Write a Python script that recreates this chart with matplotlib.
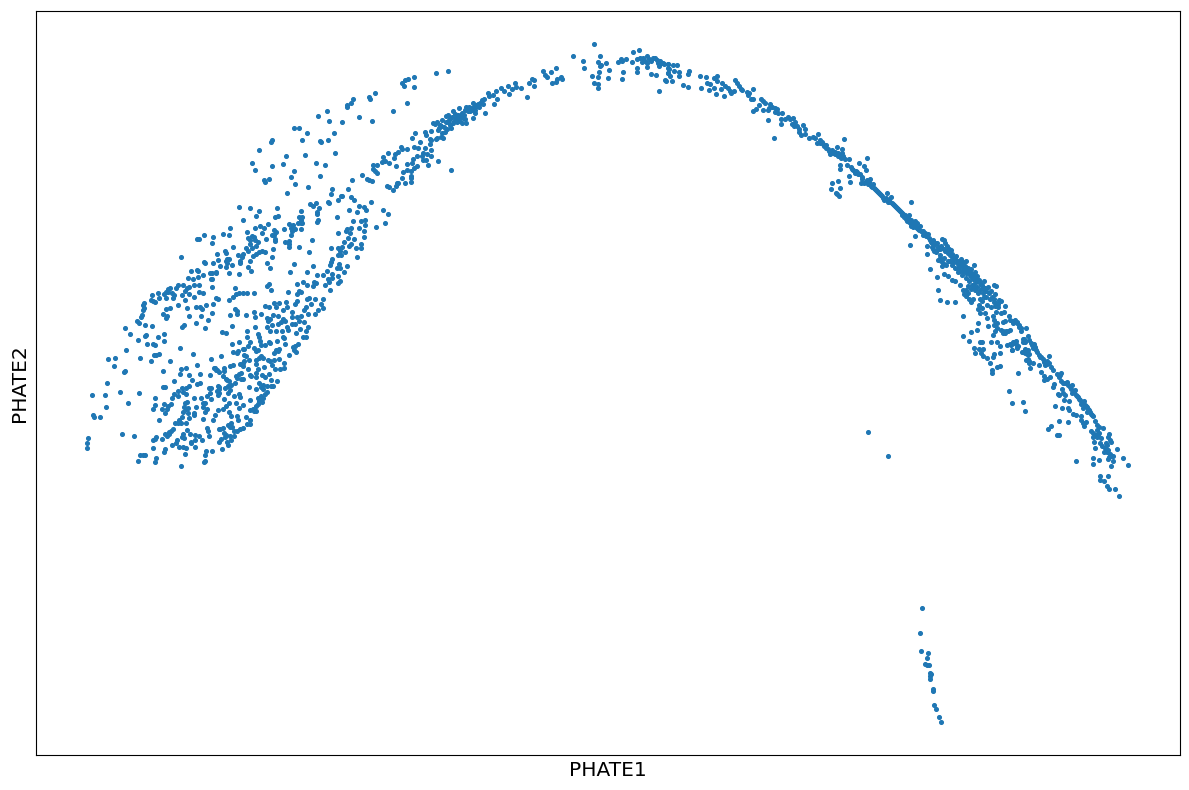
import numpy as np
from matplotlib import pyplot as plt

# values, arbitrary PHATE units
lobe_left = [(88,317),(87,312),(87,307),(92,360),(105,360),(120,363),(139,362),(107,372),(106,348),(128,352),(93,340),(94,338),(100,338),(122,321),(134,319),
    (108,396),(115,397),(114,389),(124,383),(125,384),(126,405),(140,397),(151,394),(154,400),(156,400),(159,401),(170,394),(163,384),(180,407),(193,401),(147,411),(153,411),(155,410),(138,415),(145,419),(146,420),(158,418),(164,421),(164,414),(130,421),(125,427),(137,434),(139,432),(145,430),(152,429),
    (141,438),(142,440),(143,445),(144,447),(143,450),(144,452),(152,460),(151,455),(153,454),(158,462),(159,457),(155,453),
    (164,461),(166,463),(168,466),(170,467),(168,463),(172,462),(174,460),(176,467),(178,470),(173,457),(166,457),(163,441),(166,446),(170,447),(167,439),(166,437),(178,450),
    (182,460),(185,455),(183,470),(187,467),(189,461),(185,464),(189,468),(194,458),(199,463),(203,462),(194,470),(199,470),(212,468),(188,477),(193,476),(198,478),(203,480),(210,482),(216,482),(191,484),(198,484),(211,476),
    (187,447),(196,448),(200,448),(202,446),(206,450),(213,451),(216,457),(189,439),(201,439),(212,442),(208,435),(196,432),(184,430),(182,428),(205,427),
    (211,396),(197,390),(181,386),(186,387),(180,381),(189,380),(192,375),(200,381),(210,380),(214,387),(216,385),(174,374),(197,371),(200,372),
    (163,368),(165,368),(178,364),(182,367),(186,367),(189,369),(183,363),(186,361),(174,361),(172,357),(178,359),(155,357),(155,350),(153,346),(162,346),(164,351),(168,349),(171,351),(167,346),(165,342),(159,335),
    (185,352),(187,353),(184,348),(186,346),(188,347),(183,343),(188,342),(182,338),(189,337),(179,335),(181,332),(175,332),(178,332),(186,332),(194,357),(194,342),(194,340),(196,348),(203,348),(207,346),(203,352),(205,352),(201,357),(207,359),(209,367),(210,362),(211,356),(219,368),(219,362),(205,343),(203,336),(213,335),(215,340),(218,345),
    (165,321),(169,323),(171,324),(173,326),(169,321),(167,319),(162,316),(156,318),(155,316),(153,315),(153,307),(165,306),(164,303),(177,315),(176,312),(172,310),(179,308),(183,308),(186,307),(185,301),(183,321),(184,317),(182,318),(187,325),(190,321),(195,320),(195,315),(191,313),(195,308),(191,312),(199,319),(202,315),(209,319),(207,327),(208,324),(205,300),(206,304),(212,304),(205,294),(204,293),(181,289),(155,293),(156,297),(138,294),(140,300),(143,300),(145,300),(219,326),(219,313)]

lobe_right = [(212,482),(216,483),(229,482),(239,481),(251,484),(212,476),(235,467),(233,458),(236,461),(239,462),(243,462),(247,462),(254,462),(229,455),(218,456),(235,446),(237,444),(237,441),(230,440),(246,440),(254,443),(255,438),(261,441),(265,449),(269,448),(274,452),(279,452),(276,448),(286,453),(287,448),(283,445),(278,439),(273,440),(270,436),(267,437),(268,434),(283,436),(285,434),(281,433),(278,431),(292,443),(292,438),(292,431),(295,451),(297,454),(288,463),(297,461),(299,464),(301,463),(297,471),(303,473),(307,470),(307,483),(290,483),(267,469),(269,471),(271,465),(317,480),(323,480),(327,484),(332,481),(344,483),(314,473),(316,472),(325,470),(329,473),(328,476),(332,477),(338,479),(340,474),(338,472),(330,465),(313,469),(309,457),(307,456),(311,451),(315,456),(323,456),(321,451),(323,447),(318,445),(315,441),(308,441),(306,448),(304,445),(297,438),(299,434),(301,439),(304,433),(308,428),(306,424),(303,418),(306,418),(296,422),(300,426),(295,431),(287,428),(288,425),(282,424),(276,424),(272,430),(267,428),(270,424),(255,428),(247,424),(247,418),(232,429),(222,423),(226,422),(258,421),(259,418),(260,414),(261,410),(265,410),(269,413),(270,412),(277,414),(285,411),(283,418),(284,417),(239,413),(232,411),(250,413),(248,409),(244,406),(243,406),(233,403),(237,402),(238,404),(254,407),(258,405),(256,404),(261,399),(263,397),(259,397),(256,395),(256,391),(244,400),(246,399),(249,395),(244,394),(243,392),(240,391),(243,389),(248,386),(221,399),(268,395),(270,394),(274,395),(279,396),(272,390),(275,386),(280,386),(284,392),(284,387),(278,404),(279,406),(276,405),(274,402),(289,400),(293,408),(295,409),(298,411),(294,405),(296,403),(264,388),(258,386),(256,382),(256,378),(250,380),(251,379),(262,380),(265,378),(269,381),(271,375),(277,374),(259,372),(263,370),(261,368),(267,369),(271,369),(273,369),(249,368),(256,366),(263,366),(267,363),(265,361),(263,357),(261,359),(258,357),(259,354),(250,355),(261,355),(262,353),(258,351),(256,349),(253,346),(250,345),(254,344),(256,344),(243,350),(239,347),(236,352),(239,361),(240,358),(234,359),(229,352),(224,356),(226,349),(223,346),(229,343),(231,339),(237,339),(238,335),(246,338),(250,335),(250,331),(247,331),(243,327),(240,326),(237,324),(234,324),(228,330),(231,332),(232,328),(230,328),(223,327),(220,326),(224,322),(226,320),(225,318),(230,319),(231,315),(234,319),(227,313),(228,310),(222,306),(221,316),
    (215,387),(217,385),(219,383),(224,387),(224,384),(230,389),(233,390),(241,382),(239,381),(236,379),(223,379),(226,376),(227,375),(229,374),(237,377),(241,376),(243,376),(235,372),(231,370),(228,369),(225,367),(218,369),(219,366),(217,364),(230,365),(228,362),(218,360),(211,367)]

lobe_upper = [(375,662),(369,658),(370,656),(353,656),(351,652),(347,650),(347,648),(327,644),(318,639),(329,634),(342,633),(359,638),(372,634),(393,644),(294,627),(299,627),(307,622),(334,622),(302,615),(320,614),(321,613),(328,615),(272,615),(271,613),(259,605),(335,602),(286,599),(305,600),(252,592),(283,591),(272,589),(316,592),(325,590),(255,585),(294,584),(291,578),(320,579),(269,576),(264,575),(265,573),(295,571),(308,568),(287,562),(352,575),(362,580),(332,566),(331,561),(348,566),(367,576),(369,575),(372,574),(373,590),(377,590),(373,586),(375,584),(377,582),(382,593),(385,594),(383,598),(389,592),(388,602),(394,597),(395,601),(398,603),(396,589),(387,569),(389,568),(393,565),(396,569),(398,572),
    (341,559),(342,559),(338,555),(351,558),(354,555),(371,553),(328,553),(329,552),(310,551),(313,549),(316,552),(319,547),(317,543),(317,541),(318,535),(317,533),(301,544),(349,545),(359,549),(364,548),(366,545),(357,543),(383,545),(388,541),(385,532),(376,528),(337,538),(353,534),(361,534),(365,535),(365,530),(359,527),(364,524),(364,518),(351,527),(347,526),(346,524),(338,522),(350,522),(348,517),(354,516),(344,513),(351,511),(349,509),(361,511),(361,507),(356,507),(357,498),(342,508),(338,507),(331,507),(340,504),(345,503),(338,500),(341,500),(332,496),(331,493),(330,490),(339,491),(347,489),(337,487),(340,487),
    (301,535),(299,538),(302,538),(301,532),(302,532),(298,532),(301,526),(295,526),(293,530),(289,531),(291,527),(284,526),(292,524),(291,520),(312,515),(285,513),(289,514),(289,511),(289,508),(299,508),(309,503),(294,491),(313,489),
    (239,548),(250,547),(259,544),(256,539),(243,535),(277,547),(275,538),(278,539),(268,531),(264,527),(260,529),(255,527),(247,523),(262,522),(274,525),(276,523),(272,520),(274,520),(275,516),(275,514),(266,516),(252,519),(254,518),(248,517),(250,515),(255,515),(258,513),(250,511),(252,507),(256,509),(246,507),(248,504),(273,506),(259,503),(262,504),(265,503),(256,501),(253,499),(272,498),(250,494),(267,492),(248,488),(270,487),
    (243,501),(242,498),(240,494),(240,492),(238,500),(232,490),(229,496),(227,496),(226,494),(227,492),(226,488),(220,489),(218,495),(217,501),(226,502),(225,504),(233,508),(230,527),(223,521),(229,520),(213,518),(204,520),(197,516),(199,516),(212,512),(181,498),(204,493),(205,492),(213,492),(197,485)]

arc_rising = [(407,652),(402,672),(404,669),(405,675),(408,676),(414,678),(414,668),(436,682),(448,684),(401,608),(402,606),(407,606),(412,617),(415,622),(414,608),(418,607),(420,613),(425,623),(426,620),(430,616),(431,615),(430,611),(431,605),(425,607),(423,602),(427,601),(431,599),(422,599),(426,595),(423,595),(428,590),(438,594),(451,585),
    (417,599),(413,596),(412,592),(407,591),(417,589),(414,587),(411,584),(407,585),(403,583),(402,577),(411,579),(411,577),(411,573),(405,572),(397,572),
    (431,624),(433,632),(435,631),(437,633),(436,616),(437,617),(439,627),(441,629),(442,635),(442,622),(441,618),(443,617),(445,623),(447,626),(446,633),(446,639),(448,640),(448,633),(450,637),(450,630),(451,627),(453,632),(453,644),(455,641),(456,637),(458,640),(459,647),(458,636),(460,637),(462,632),(462,642),(463,637),(465,636),(465,645),(466,632),(468,644),(466,648),(469,648),(471,647),(473,637),(473,652),(475,642),(475,645),(477,649),(478,651),(480,652),(482,655),(484,656),(485,642),(483,651),(488,662),(489,659),(494,651),(493,660),(497,656),(496,664),(501,667),(504,664),(508,669),(509,661),(512,666),(515,672),(516,668),(521,667),(527,658),(529,672),(532,676),(534,675),(534,669),(543,684),(545,680),(547,678),(551,683),(556,687),(552,672),(556,673),(557,676),(561,678),(562,676),
    (438,625),(440,630),(444,628),(449,635),(452,638),(454,634),(457,633),(459,634),(461,640),(464,640),(470,644),(472,645),(474,648),(476,650),(479,648)]

arc_top = [(573,699),(583,694),(584,687),(594,711),(598,693),(600,699),(600,689),(601,690),(599,683),(592,679),(598,678),(594,672),(598,671),(598,667),(606,692),(609,685),(608,677),
    (618,693),(621,696),(622,694),(626,696),(623,683),(622,676),(633,703),(639,705),(632,693),(637,696),(637,687),(637,683),(640,697),(642,693),(643,697),(645,694),(647,699),(647,692),(649,696),(647,688),(651,694),(653,697),(655,697),(657,695),(658,692),(659,689),(660,694),(663,692),(651,681),(656,680),(659,664),(665,675),(666,674),(668,687),(668,682),(668,691),
    (661,692),(664,691),(668,691),(673,690),(677,690),(669,686),(674,684),(679,683),(668,682),(670,679),(679,679),(688,681),(689,684),(672,674),(683,670),(688,668)]

arc_falling = [(700,679),(706,678),(714,677),(717,679),(717,674),(707,672),(710,671),(701,667),(709,665),(714,667),(721,666),(722,672),(716,661),(724,659),(725,669),(728,667),(730,664),(731,662),(734,664),(735,675),(737,672),(739,669),(741,666),(742,665),(753,666),(747,663),(749,662),(748,660),(751,656),(753,656),
    (761,656),(763,654),(759,650),(756,646),(753,644),(765,652),(763,645),(768,645),(770,651),(769,647),(772,648),(768,635),(774,617),(775,647),(777,646),(775,643),(778,642),(782,642),(781,636),(781,631),(785,636),(788,638),(790,636),(793,637),(792,631),(795,633),(794,629),(797,629),(799,626),(803,630),(805,626),(799,623),(801,620),(805,621),(809,617),(813,618),(815,617),(818,621),(817,612),(820,615),(822,613),(824,609),(826,610),(828,606),(830,601),(832,605),(835,603),(837,608),(835,601),(838,599),(842,606),(841,597),(844,616),(842,602),(840,590),(840,586),(845,596),(849,596),(847,590),(851,588),(853,585),(855,582),(859,592),(867,597),(864,589),(866,585),(857,583),(860,581),(862,578),(849,579),(850,573),(861,572),(864,572),(832,572),(838,574),(840,567),(831,566),(836,562),(837,561),(839,559),
    (867,575),(870,576),(868,571),(871,569),(873,571),(874,567),(876,565),(878,563),(880,561),(882,559),(884,555),(886,557),(887,562),(891,558),(888,553),(892,552),(894,550),(896,548),(898,546),(900,544),(902,542),(904,540),(906,538),(908,536),(911,553),(909,540),(910,534),(913,532),(915,534),(917,532),(911,530),(913,528),
    (820,612),(823,611),(826,607),(829,604),(833,602),(838,602),(840,600),(843,599),(852,586),(856,584),(858,581),(862,576),(866,573),(869,573),(872,568),(875,566),(877,564),(879,562),(881,560),(883,557),(885,556),(889,555),(890,553),(893,551),(895,549),(897,547),(899,545),(901,543),(903,541),(905,539),(907,537)]

arc_dense = [(905,540),(908,538),(907,534),(911,535),(911,529),(915,531),(917,527),(920,529),(919,525),(923,524),(925,522),(928,521),(923,520),(915,519),(910,510),(929,517),(933,515),(942,516),(944,515),(931,513),(927,509),(934,510),(937,512),(941,509),(945,512),(947,509),(949,506),(951,505),(927,501),(933,506),(934,504),(937,505),(945,504),(948,502),(952,501),(956,499),(955,497),(940,497),(938,495),(941,494),(943,492),(942,489),(946,490),(950,494),(953,493),(958,494),(961,496),(963,493),(966,494),(959,489),(962,490),(965,489),(968,487),(974,490),(971,486),(958,486),(960,484),(963,484),(966,482),(969,481),(975,483),(930,486),(937,478),(944,481),(948,479),(952,475),(955,474),(960,470),(971,478),(973,476),(977,479),(979,475),(975,472),(980,472),(984,474),(982,470),(985,467),(994,470),(996,469),(988,468),(991,464),(995,461),(1001,454),(999,455),
    (968,469),(966,465),(971,466),(974,468),(963,465),(964,461),(968,462),(966,459),(969,456),(971,453),(973,456),(978,462),(980,456),(982,454),(984,458),(979,450),(978,446),(982,447),(987,450),(991,448),(985,442),(980,442),(987,437),(994,453),(995,449),(998,448),(996,443),(993,439),(998,451),(1005,449),(1004,443),(1001,442),(963,439),(938,465),(940,455),(947,453),(955,453),(978,432),(977,425),(971,423),(963,419),(969,414),(988,429),(994,435),(997,432),(994,430),(997,427),(995,424),(993,420),(1001,425),(1003,422),(1006,424),(1008,424),(1005,434),(1009,439),(1010,435),(1013,432),(1015,435),(1017,433),(1019,430),(1021,427),(1026,427),(1023,416),(1028,419),
    (980,413),(982,413),(991,413),(997,413),(1000,409),(974,407),(979,406),(983,406),(975,402),(981,402),(983,399),(987,397),(994,401),(993,398),(1000,402),(990,392),(997,388),(1000,389),(992,385),(992,382),(1018,382),
    (1007,410),(1010,411),(1013,413),(1016,414),(1012,405),(1017,408),(1018,409),(1023,413),(1022,403),(1026,405),(1027,401),(1028,396),(1025,402),(1029,392),
    (902,540),(904,538),(906,536),(909,533),(912,531),(914,529),(916,528),(918,526),(921,524),(924,521),(926,519),(930,515),(932,512),(935,512),(938,508),(940,506),(942,507),(944,506),(946,504),(950,500),(952,498),(954,496),(957,492),(960,491),(962,488),(964,486),(967,484),(970,483),(972,481),(974,479),(976,476),(978,474),(981,470),(983,467),(986,464),(989,462),(992,458),(990,456),(994,456),(996,452),(986,458),(983,462),(980,465),(977,468),(975,465),(972,470),(969,474),(966,477),(962,480),(958,483),(955,487),(952,490),(948,494),(944,497),(940,500),(936,503),(932,508)]

arc_end = [(1003,433),(1013,434),(1017,432),(1019,428),(1021,424),(1003,424),(1005,422),(1010,425),(1024,416),(1025,413),(1029,415),(1031,412),(1034,411),(1033,407),(1035,408),(1013,412),(1011,410),(1016,411),(1017,407),(1012,405),(1023,403),(1025,406),(1028,405),(1029,401),(1037,403),(1039,400),(1041,398),(1049,399),(1026,395),(1029,394),(1033,392),(1030,387),(1039,390),(1043,396),(1047,394),(1049,392),(1045,390),(1051,388),(1053,385),(1041,383),(1044,379),(1050,378),(1047,376),(1044,375),(1057,381),(1061,382),(1059,378),(1061,374),(1063,372),(1067,373),(1054,371),(1053,368),(1062,366),(1068,370),(1072,370),(1071,366),(1075,365),(1072,362),(1076,360),(1078,358),(1080,355),(1058,361),(1059,360),(1063,362),(1065,360),(1084,354),(1081,351),(1085,350),(1087,348),(1083,347),(1089,345),(1087,343),(1091,341),(1093,339),(1064,355),(1069,354),(1068,347),(1069,345),(1062,347),(1055,349),(1009,364),(1012,352),(1023,353),(1025,344),(1073,341),(1076,340),(1081,339),(1059,334),(1068,333),(1048,326),(1051,329),(1057,320),(1059,320),(1081,335),(1083,332),(1086,333),(1084,329),(1095,334),(1097,330),(1099,328),(1103,327),(1091,324),(1093,322),(1096,320),(1099,322),(1093,318),(1097,318),(1101,317),(1109,321),(1108,318),(1110,315),(1094,313),(1100,312),(1102,309),(1107,310),(1111,313),(1095,307),(1105,307),(1108,305),(1117,306),(1104,303),(1110,301),(1113,299),(1109,298),(1123,297),(1128,290),(1093,297),(1099,295),(1076,294),(1093,291),(1111,289),(1108,296),(1113,294),(1100,279),(1108,279),(1100,275),(1104,274),(1107,269),(1109,266),(1115,266),(1119,259),
    (1032,410),(1036,405),(1040,398),(1044,393),(1047,391),(1060,380),(1065,372),(1070,368),(1074,363),(1077,359),(1079,356),(1082,353),(1086,349),(1088,346),(1090,343),(1092,340),(1097,325),(1098,320),(1106,312),(1107,303),(1111,299)]

side_branch = [(868,323),(888,299),(922,147),(920,122),(921,104),(928,102),(927,97),(925,91),(927,90),(929,90),(930,82),(931,81),(930,79),(930,76),(933,66),(933,64),(934,50),(936,46),(939,38),(941,33)]

branches = [lobe_left, lobe_right, lobe_upper, arc_rising, arc_top, arc_falling, arc_dense, arc_end, side_branch]
points = np.array([p for branch in branches for p in branch])

fig = plt.figure(figsize=(11.89, 7.9), dpi=100)
ax = fig.add_axes([35.5 / 1189, 35 / 790, 1144.5 / 1189, 744.5 / 790])
ax.scatter(points[:, 0], points[:, 1], s=7, color='tab:blue')
ax.set_xlim(35.5, 1180)
ax.set_ylim(0, 744.5)
ax.set_xticks([])
ax.set_yticks([])
ax.set_xlabel('PHATE1', fontsize=14.5, labelpad=4)
ax.set_ylabel('PHATE2', fontsize=14.5, labelpad=5)
fig.savefig('out.png', dpi=100)
